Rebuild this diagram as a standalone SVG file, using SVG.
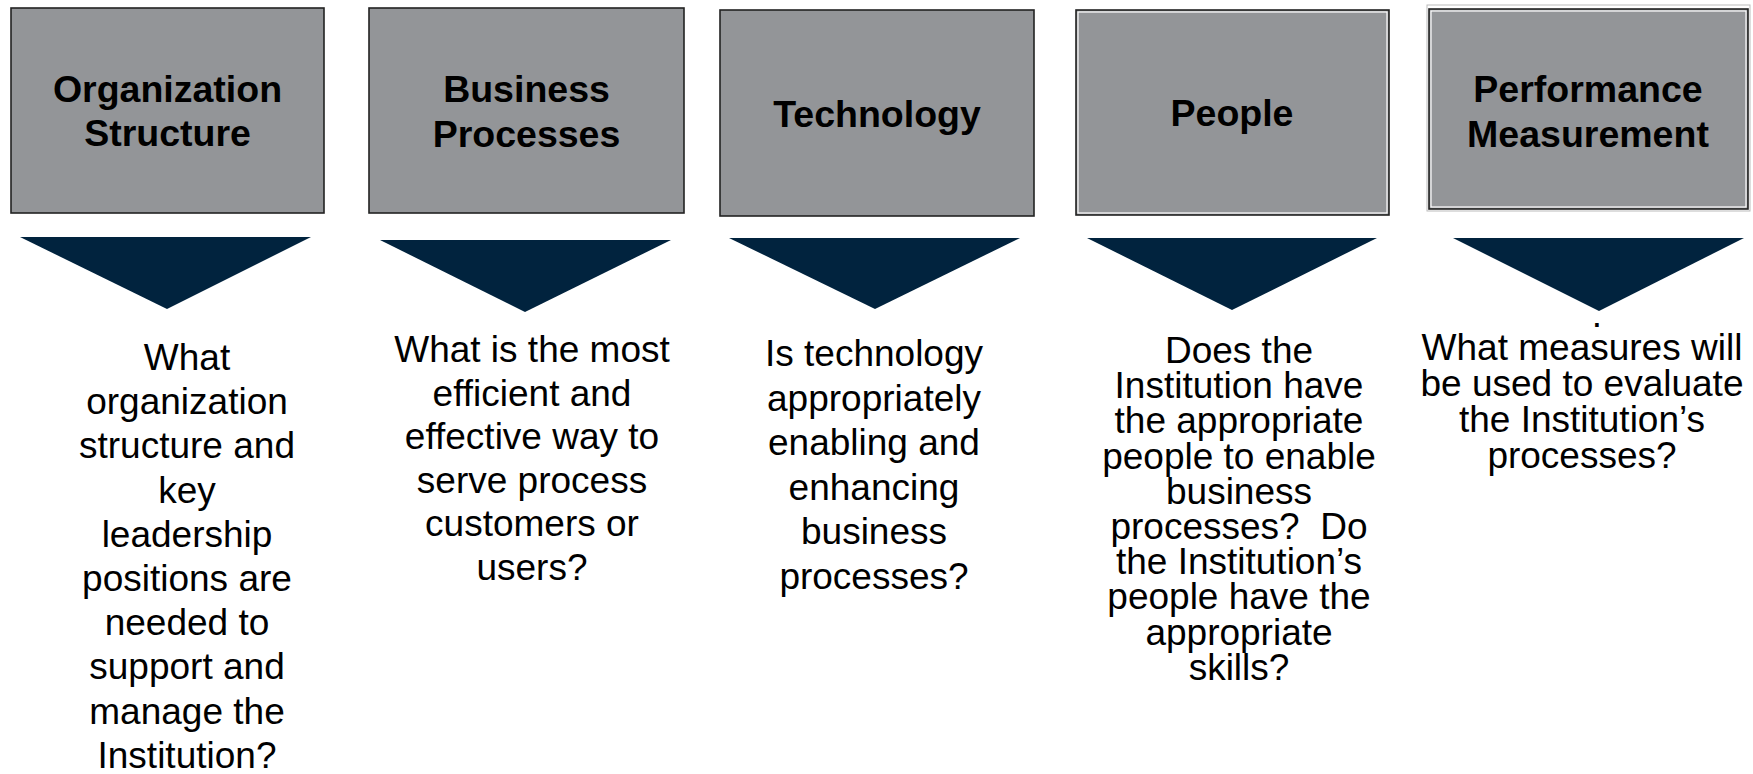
<svg xmlns="http://www.w3.org/2000/svg" width="1753" height="774" viewBox="0 0 1753 774">
<style>
.box{fill:#939598;stroke:#222;stroke-width:1.6}
.hl{fill:none;stroke:#fff;stroke-width:1.2}
.tri{fill:#01233E}
.title{font-family:"Liberation Sans",Arial,sans-serif;font-weight:bold;font-size:37.5px;fill:#000;text-anchor:middle}
.body{font-family:"Liberation Sans",Arial,sans-serif;font-size:37px;fill:#000;text-anchor:middle}
</style>
<rect width="1753" height="774" fill="#fff"/>
<g id="connectors">
<polygon class="tri" points="20,237 311,237 167,309"/>
<polygon class="tri" points="380,240 671,240 525,312"/>
<polygon class="tri" points="729,238 1020,238 875,309"/>
<polygon class="tri" points="1087,238 1377,238 1232,310"/>
<polygon class="tri" points="1453,238 1744,238 1599,311"/>
</g>
<g id="node-org">
<rect class="box" x="11" y="8" width="313" height="205"/>
<text class="title" x="167.5" y="102">Organization</text>
<text class="title" x="167.5" y="146">Structure</text>
</g>
<g id="node-bp">
<rect class="box" x="369" y="8" width="315" height="205"/>
<text class="title" x="526.5" y="102">Business</text>
<text class="title" x="526.5" y="147">Processes</text>
</g>
<g id="node-tech">
<rect class="box" x="720" y="10" width="314" height="206"/>
<text class="title" x="877" y="127">Technology</text>
</g>
<g id="node-people">
<rect class="box" x="1076" y="10" width="313" height="205"/>
<rect class="hl" x="1078" y="12" width="309" height="201"/>
<text class="title" x="1232" y="126">People</text>
</g>
<g id="node-perf">
<rect x="1427" y="5" width="323" height="206" fill="none" stroke="#bbb" stroke-width="1"/>
<rect class="box" x="1429" y="9" width="319" height="200"/>
<rect class="hl" x="1431" y="11" width="315" height="196"/>
<text class="title" x="1588" y="102">Performance</text>
<text class="title" x="1588" y="147">Measurement</text>
</g>
<g id="q-org">
<text class="body" x="187" y="370">What</text>
<text class="body" x="187" y="414.2">organization</text>
<text class="body" x="187" y="458.4">structure and</text>
<text class="body" x="187" y="502.6">key</text>
<text class="body" x="187" y="546.8">leadership</text>
<text class="body" x="187" y="591">positions are</text>
<text class="body" x="187" y="635.2">needed to</text>
<text class="body" x="187" y="679.4">support and</text>
<text class="body" x="187" y="723.6">manage the</text>
<text class="body" x="187" y="767.8">Institution?</text>
</g>
<g id="q-bp">
<text class="body" x="532" y="362">What is the most</text>
<text class="body" x="532" y="405.5">efficient and</text>
<text class="body" x="532" y="449">effective way to</text>
<text class="body" x="532" y="492.5">serve process</text>
<text class="body" x="532" y="536">customers or</text>
<text class="body" x="532" y="579.5">users?</text>
</g>
<g id="q-tech">
<text class="body" x="874" y="366">Is technology</text>
<text class="body" x="874" y="410.6">appropriately</text>
<text class="body" x="874" y="455.2">enabling and</text>
<text class="body" x="874" y="499.8">enhancing</text>
<text class="body" x="874" y="544.4">business</text>
<text class="body" x="874" y="589">processes?</text>
</g>
<g id="q-people">
<text class="body" x="1239" y="363">Does the</text>
<text class="body" x="1239" y="398.2">Institution have</text>
<text class="body" x="1239" y="433.4">the appropriate</text>
<text class="body" x="1239" y="468.6">people to enable</text>
<text class="body" x="1239" y="503.8">business</text>
<text class="body" x="1239" y="539" xml:space="preserve">processes?  Do</text>
<text class="body" x="1239" y="574.2">the Institution’s</text>
<text class="body" x="1239" y="609.4">people have the</text>
<text class="body" x="1239" y="644.6">appropriate</text>
<text class="body" x="1239" y="679.8">skills?</text>
</g>
<g id="q-perf">
<text class="body" x="1597" y="327">.</text>
<text class="body" x="1582" y="360">What measures will</text>
<text class="body" x="1582" y="396">be used to evaluate</text>
<text class="body" x="1582" y="432">the Institution’s</text>
<text class="body" x="1582" y="468">processes?</text>
</g>
</svg>
